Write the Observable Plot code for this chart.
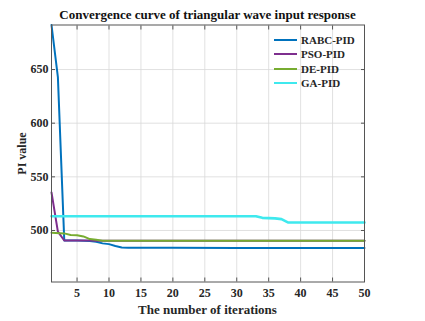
<!DOCTYPE html>
<html>
<head>
<meta charset="utf-8">
<script src="https://cdn.jsdelivr.net/npm/d3@7"></script>
<script src="https://cdn.jsdelivr.net/npm/@observablehq/plot@0.6"></script>
<style>
  body { margin: 0; background: #fff; }
  #wrap { position: relative; width: 425px; height: 321px; font-family: "Liberation Serif", "Times New Roman", serif; }
  #wrap svg text { font-family: "Liberation Serif", "Times New Roman", serif !important; font-weight: bold; }
  #title { position: absolute; left: 51px; width: 313px; top: 7px; text-align: center; font-weight: bold; font-size: 13px; color: #111; white-space: nowrap; }
  #xlabel { position: absolute; left: 51px; width: 313px; top: 301.5px; text-align: center; font-weight: bold; font-size: 13px; color: #262626; white-space: nowrap; }
  #legend { position: absolute; left: 273px; top: 32.5px; font-weight: bold; font-size: 11px; color: #262626; }
  #legend div { display: flex; align-items: center; height: 14.5px; }
  #legend svg { margin-right: 3px; }
</style>
</head>
<body>
<div id="wrap">
  <div id="title">Convergence curve of triangular wave input response</div>
  <div id="xlabel">The number of iterations</div>
  <div id="legend"></div>
</div>
<script>
const seriesNames = ["RABC-PID", "PSO-PID", "DE-PID", "GA-PID"];
const seriesColors = ["#0072BD", "#7E2F8E", "#77AC30", "#3FE9EE"];

const rabcIter = [1, 2, 3, 4, 5, 6, 7, 8, 9, 10, 11, 12, 13, 20, 30, 50];
const rabcVal  = [691.5, 643, 490.7, 490.7, 490.6, 490.5, 490.3, 489.5, 488, 487.3, 485.5, 484.2, 484.0, 484.0, 483.7, 483.6];

const psoIter = [1, 2, 3, 7, 8, 50];
const psoVal  = [535.5, 499, 490.7, 490.7, 490.4, 490.4];

const deIter = [1, 3, 4, 5, 6, 7, 8, 9, 50];
const deVal  = [497.8, 497.3, 495.8, 495.6, 494.5, 492, 491.3, 490.5, 490.4];

const gaIter = [1, 33, 34, 36, 37, 38, 50];
const gaVal  = [513.3, 513.3, 511.8, 511.3, 510.6, 507.5, 507.5];

const xTicks = [5, 10, 15, 20, 25, 30, 35, 40, 45, 50];
const yTicks = [500, 550, 600, 650];

const table = [];
[[rabcIter, rabcVal], [psoIter, psoVal], [deIter, deVal], [gaIter, gaVal]].forEach(([it, v], k) => {
  it.forEach((x, i) => table.push({series: seriesNames[k], iter: x, value: v[i]}));
});

const font = "Liberation Serif";
const chart = Plot.plot({
  width: 425,
  height: 321,
  marginLeft: 51,
  marginRight: 61,
  marginTop: 24.5,
  marginBottom: 39.5,
  style: {fontFamily: font, fontWeight: "bold", fontSize: "12px", color: "#262626", background: "#fff"},
  x: {domain: [1, 50]},
  y: {domain: [452, 691.5]},
  color: {domain: seriesNames, range: seriesColors},
  marks: [
    Plot.gridX(xTicks.slice(0, -1), {stroke: "#d9d9d9", strokeOpacity: 1, strokeWidth: 0.8}),
    Plot.gridY(yTicks, {stroke: "#d9d9d9", strokeOpacity: 1, strokeWidth: 0.8}),
    Plot.line(table, {x: "iter", y: "value", z: "series", stroke: "series", strokeWidth: 2, filter: d => d.series !== "GA-PID"}),
    Plot.line(table, {x: "iter", y: "value", stroke: "series", strokeWidth: 2.6, filter: d => d.series === "GA-PID"}),
    Plot.frame({stroke: "#555", strokeWidth: 1}),
    Plot.axisX(xTicks, {anchor: "bottom", tickSize: -4, tickPadding: 10, fontFamily: font, fontWeight: "bold", fontSize: 12, label: null, stroke: "#555"}),
    Plot.axisX(xTicks, {anchor: "top", tickSize: -4, tickFormat: () => "", label: null, stroke: "#555"}),
    Plot.axisY(yTicks, {anchor: "left", tickSize: -4, tickPadding: 7, fontFamily: font, fontWeight: "bold", fontSize: 12, label: "PI value", labelAnchor: "center", labelArrow: "none", labelOffset: 34, stroke: "#555"}),
    Plot.axisY(yTicks, {anchor: "right", tickSize: -4, tickFormat: () => "", label: null, stroke: "#555"})
  ]
});
document.getElementById("wrap").prepend(chart);
chart.style.position = "absolute";
chart.style.left = "0";
chart.style.top = "0";

const leg = document.getElementById("legend");
seriesNames.forEach((n, i) => {
  const row = document.createElement("div");
  row.innerHTML = `<svg width="25" height="6"><line x1="1" y1="3" x2="24" y2="3" stroke="${seriesColors[i]}" stroke-width="2"/></svg><span>${n}</span>`;
  leg.appendChild(row);
});
</script>
</body>
</html>
